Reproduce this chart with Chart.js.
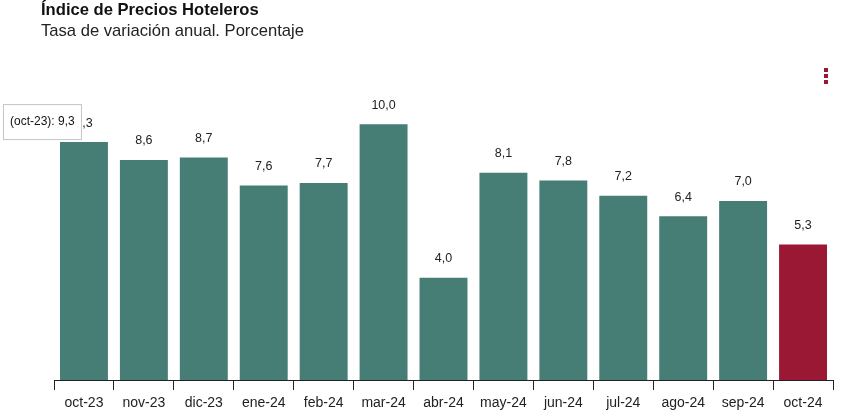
<!DOCTYPE html>
<html>
<head>
<meta charset="utf-8">
<script src="https://cdn.jsdelivr.net/npm/chart.js@4"></script>
<style>
body{margin:0;background:#fff;font-family:"Liberation Sans",Arial,sans-serif;overflow:hidden}
#wrap{position:relative;width:845px;height:415px}
#title{position:absolute;left:41px;top:0px;font-size:16.6px;font-weight:bold;color:#111}
#sub{position:absolute;left:41px;top:21px;font-size:16.6px;color:#222}
canvas{position:absolute;left:0;top:0}
</style>
</head>
<body>
<div id="wrap">
<canvas id="c" width="845" height="415"></canvas>
<div id="title">Índice de Precios Hoteleros</div>
<div id="sub">Tasa de variación anual. Porcentaje</div>
</div>
<script>
const meses=["oct-23","nov-23","dic-23","ene-24","feb-24","mar-24","abr-24","may-24","jun-24","jul-24","ago-24","sep-24","oct-24"]
const tasa=[9.3,8.6,8.7,7.6,7.7,10.0,4.0,8.1,7.8,7.2,6.4,7.0,5.3]

const VERDE="#467d74"
const ROJO="#9b1834"

const fmt=v=>v.toFixed(1).replace(".",",")

const extras={
id:"extras",
afterDatasetsDraw(chart){
const c=chart.ctx
const meta=chart.getDatasetMeta(0)
c.save()
c.font="12.5px 'Liberation Sans', Arial"
c.fillStyle="#222"
c.textAlign="center"
c.textBaseline="middle"
meta.data.forEach((b,i)=>{
c.fillText(fmt(tasa[i]),b.x,b.y-19)
})
// tooltip on first bar
const b=meta.data[0]
const txt="("+meses[0]+"): "+fmt(tasa[0])
const w=79,h=36
const x=b.x-2-w,y=b.y-2-h
c.fillStyle="#fff"
c.fillRect(x,y,w,h)
c.strokeStyle="#c4c4c4"
c.lineWidth=1
c.strokeRect(x+0.5,y+0.5,w-1,h-1)
c.fillStyle="#111"
c.textAlign="left"
c.font="12px 'Liberation Sans', Arial"
c.fillText(txt,x+7,y+h/2)
// menu dots
c.fillStyle=ROJO
for(let k=0;k<3;k++) c.fillRect(824,68+k*6,4,4)
c.restore()
}
}

new Chart(document.getElementById("c"),{
type:"bar",
data:{
labels:meses,
datasets:[{
data:tasa,
backgroundColor:tasa.map((v,i)=>i==tasa.length-1?ROJO:VERDE),
barPercentage:0.8,
categoryPercentage:1
}]
},
options:{
responsive:false,
animation:false,
layout:{padding:{left:54,right:12,top:73,bottom:0}},
plugins:{legend:{display:false},tooltip:{enabled:false}},
scales:{
y:{display:false,min:0,max:12},
x:{
afterFit(s){s.height=35},
grid:{offset:true,drawOnChartArea:false,tickLength:10,color:"#222"},
border:{display:true,color:"#222"},
ticks:{color:"#222",font:{size:14,family:"'Liberation Sans', Arial"},padding:5}
}
}
},
plugins:[extras]
})
</script>
</body>
</html>
